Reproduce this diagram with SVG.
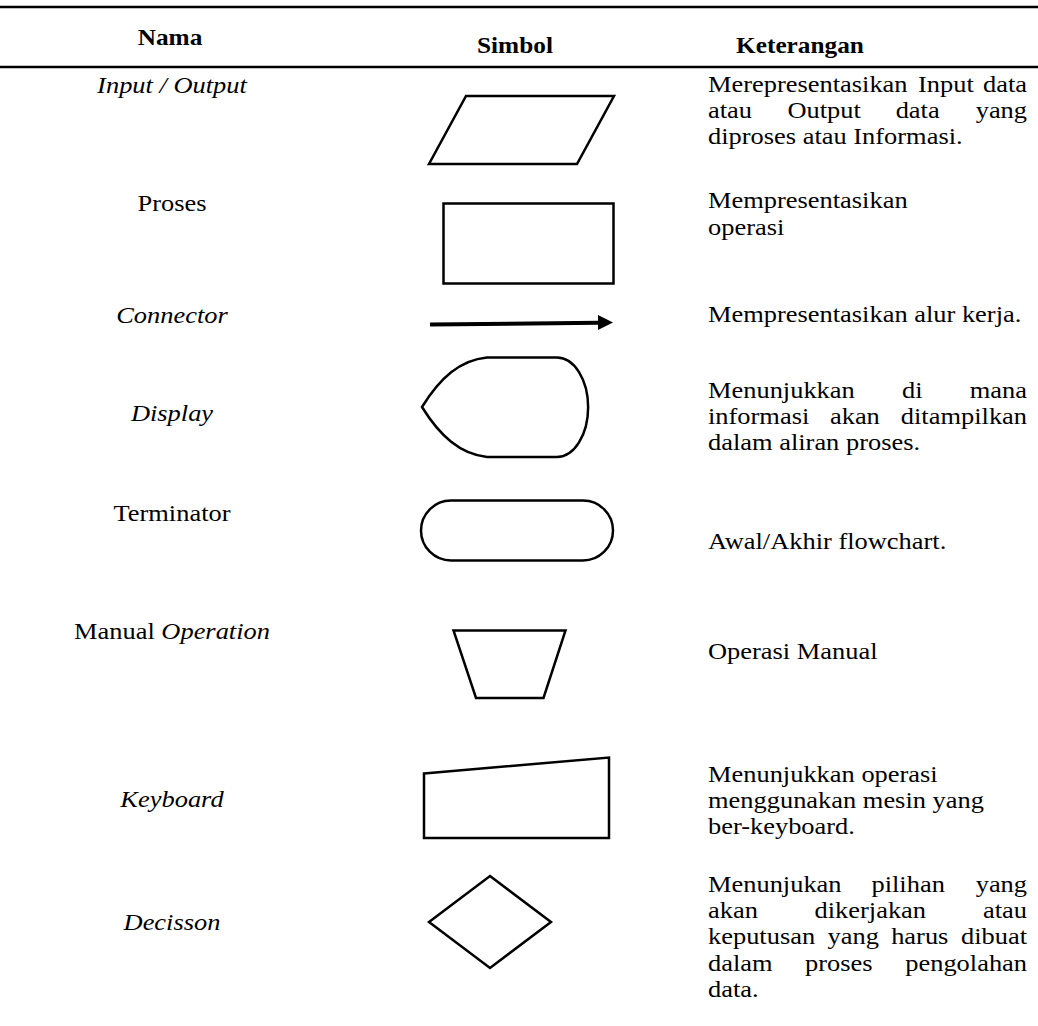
<svg xmlns="http://www.w3.org/2000/svg" width="1038" height="1026" viewBox="0 0 1038 1026">
<defs>
<style>
.t{font-family:"Liberation Serif","Times New Roman",serif;font-size:23.5px;fill:#000}
.h{font-family:"Liberation Serif","Times New Roman",serif;font-size:22.5px;font-weight:bold;fill:#000;text-anchor:middle}
.i{font-style:italic}
.c{text-anchor:middle}
.s{fill:#fff;stroke:#000;stroke-width:2.5;stroke-linejoin:miter}
.rule{stroke:#000;stroke-width:2.5}
</style>
</defs>
<rect width="1038" height="1026" fill="#fff"/>
<g id="header">
<line class="rule" x1="0" y1="7" x2="1038" y2="7"/>
<line class="rule" x1="0" y1="67" x2="1038" y2="67"/>
<text class="h" x="170" y="45" transform="matrix(1.125 0 0 1 -21.25 0)">Nama</text>
<text class="h" x="515" y="53" transform="matrix(1.125 0 0 1 -64.375 0)">Simbol</text>
<text class="h" x="800" y="53" transform="matrix(1.125 0 0 1 -100 0)">Keterangan</text>
</g>
<g id="row-input-output">
<text class="t i c" x="172" y="93" transform="matrix(1.125 0 0 1 -21.5 0)">Input / Output</text>
<polygon class="s" points="466,96 614,96 577,164 429,164"/>
<text class="t" transform="matrix(1.125 0 0 1 -88.5 0)"><tspan x="708" y="92">Merepresentasikan</tspan><tspan x="894.7" y="92">Input</tspan><tspan x="991.6" y="92" text-anchor="end">data</tspan><tspan x="708" y="118">atau</tspan><tspan x="778.6" y="118">Output</tspan><tspan x="874.8" y="118">data</tspan><tspan x="991.6" y="118" text-anchor="end">yang</tspan><tspan x="708" y="144">diproses atau Informasi.</tspan></text>
</g>
<g id="row-proses">
<text class="t c" x="172" y="211" transform="matrix(1.125 0 0 1 -21.5 0)">Proses</text>
<rect class="s" x="443.5" y="203.5" width="170" height="80"/>
<text class="t" transform="matrix(1.125 0 0 1 -88.5 0)"><tspan x="708" y="208">Mempresentasikan</tspan><tspan x="708" y="235">operasi</tspan></text>
</g>
<g id="row-connector">
<text class="t i c" x="172" y="323" transform="matrix(1.125 0 0 1 -21.5 0)">Connector</text>
<g id="connectors">
<line x1="430" y1="324.5" x2="599" y2="322.8" stroke="#000" stroke-width="4"/>
<polygon points="598,315 613,322.5 598,330" fill="#000"/>
</g>
<text class="t" x="708" y="322" transform="matrix(1.125 0 0 1 -88.5 0)">Mempresentasikan alur kerja.</text>
</g>
<g id="row-display">
<text class="t i c" x="172" y="421" transform="matrix(1.125 0 0 1 -21.5 0)">Display</text>
<path class="s" d="M422,407 C440,378 460,360 487,357.5 L557,357.5 A31,49.5 0 0 1 557,457 L487,457 C460,454 440,436 422,407 Z"/>
<text class="t" transform="matrix(1.125 0 0 1 -88.5 0)"><tspan x="708" y="398">Menunjukkan</tspan><tspan x="880.4" y="398">di</tspan><tspan x="991.6" y="398" text-anchor="end">mana</tspan><tspan x="708" y="424">informasi</tspan><tspan x="816.4" y="424">akan</tspan><tspan x="991.6" y="424" text-anchor="end">ditampilkan</tspan><tspan x="708" y="450">dalam aliran proses.</tspan></text>
</g>
<g id="row-terminator">
<text class="t c" x="172" y="521" transform="matrix(1.125 0 0 1 -21.5 0)">Terminator</text>
<rect class="s" x="421" y="500.5" width="192" height="60" rx="30" ry="30"/>
<text class="t" x="708" y="549" transform="matrix(1.125 0 0 1 -88.5 0)">Awal/Akhir flowchart.</text>
</g>
<g id="row-manual-operation">
<text class="t c" x="172" y="639" transform="matrix(1.125 0 0 1 -21.5 0)">Manual <tspan class="i">Operation</tspan></text>
<polygon class="s" points="453.5,630.5 565.5,630.5 543.5,698 476,698"/>
<text class="t" x="708" y="659" transform="matrix(1.125 0 0 1 -88.5 0)">Operasi Manual</text>
</g>
<g id="row-keyboard">
<text class="t i c" x="172" y="807" transform="matrix(1.125 0 0 1 -21.5 0)">Keyboard</text>
<polygon class="s" points="424,773.5 609,757.5 609,838 424,838"/>
<text class="t" transform="matrix(1.125 0 0 1 -88.5 0)"><tspan x="708" y="782">Menunjukkan operasi</tspan><tspan x="708" y="808">menggunakan mesin yang</tspan><tspan x="708" y="834">ber-keyboard.</tspan></text>
</g>
<g id="row-decisson">
<text class="t i c" x="172" y="930" transform="matrix(1.125 0 0 1 -21.5 0)">Decisson</text>
<polygon class="s" points="490,876 551,922 490,968 429,922"/>
<text class="t" transform="matrix(1.125 0 0 1 -88.5 0)"><tspan x="708" y="892">Menunjukan</tspan><tspan x="853.3" y="892">pilihan</tspan><tspan x="991.6" y="892" text-anchor="end">yang</tspan><tspan x="708" y="918">akan</tspan><tspan x="802.7" y="918">dikerjakan</tspan><tspan x="991.6" y="918" text-anchor="end">atau</tspan><tspan x="708" y="944">keputusan</tspan><tspan x="814.3" y="944">yang</tspan><tspan x="870.8" y="944">harus</tspan><tspan x="991.6" y="944" text-anchor="end">dibuat</tspan><tspan x="708" y="971">dalam</tspan><tspan x="794.2" y="971">proses</tspan><tspan x="991.6" y="971" text-anchor="end">pengolahan</tspan><tspan x="708" y="997">data.</tspan></text>
</g>
</svg>
